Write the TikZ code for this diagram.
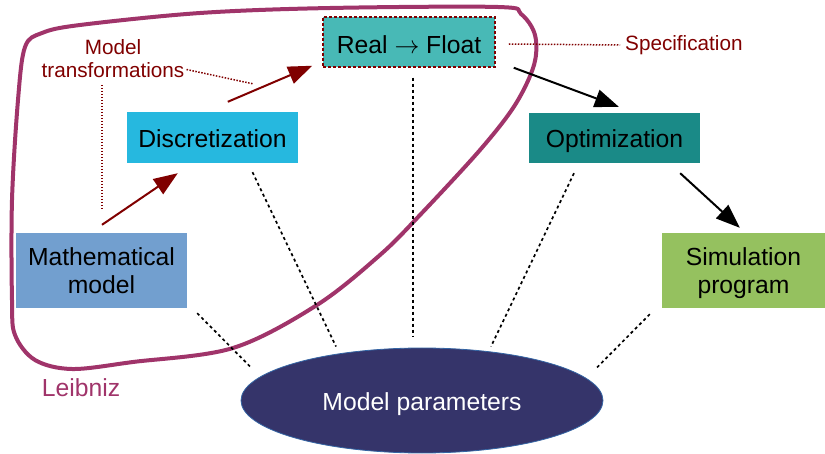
\documentclass[tikz,border=0pt]{standalone}
\usepackage{fontspec}
\setmainfont{Liberation Sans}
\usetikzlibrary{arrows.meta,calc,shapes.geometric}
\definecolor{dred}{HTML}{800000}
\definecolor{leib}{HTML}{A0346A}
\definecolor{cReal}{HTML}{48B9B6}
\definecolor{cOpt}{HTML}{1A8A87}
\definecolor{cDisc}{HTML}{26B8DF}
\definecolor{cMath}{HTML}{729FCF}
\definecolor{cSim}{HTML}{95C15F}
\definecolor{cEll}{HTML}{35346A}
\definecolor{cEllB}{HTML}{3465A4}
\newcommand{\nodesc}[1]{\raisebox{0pt}[\height][0pt]{#1}}
\begin{document}
\begin{tikzpicture}[x=1pt,y=-1pt,
  box/.style={rectangle, inner sep=0pt, font=\fontsize{24.7}{27.5}\selectfont, align=center},
  onebox/.style={rectangle, inner sep=0pt, font=\fontsize{24.7}{27.5}\selectfont, text height=22pt, text depth=2pt},
  tarrow/.style={-{Triangle[length=24pt,width=18pt]}, line width=2pt},
  dots/.style={dash pattern=on 3pt off 3pt, line width=1.7pt},
  rdots/.style={dred, dash pattern=on 1.5pt off 1.5pt, line width=1.5pt},
  anno/.style={dred, font=\fontsize{20.7}{23}\selectfont, align=center, inner sep=0pt}]
\useasboundingbox (0,0) rectangle (825,454);

% Leibniz loop
\draw[leib, line width=4pt, line join=round] plot[smooth cycle, tension=0.55] coordinates {
  (12,300) (12,200) (18,100) (25,47) (42,33) (80,25) (200,13) (330,8) (498,7)
  (521,14) (535,35) (534,65) (515,105) (480,150) (420,215) (380,255) (317,305)
  (233,348) (133,362) (72,369) (35,360) (15,335)};
\node[leib, font=\fontsize{24.7}{28}\selectfont, inner sep=0pt] (leibniz) at (81,388) {Leibniz};

% nodes
\node[onebox, text height=26pt, fill=cReal, draw=dred, dash pattern=on 3pt off 2pt, line width=1.5pt,
      minimum width=172pt, minimum height=50pt] (real) at (409,42) {Real $\rightarrow$ Float};
\node[onebox, fill=cOpt, minimum width=171pt, minimum height=50pt] (opt) at (614.5,138) {Optimization};
\node[onebox, fill=cDisc, minimum width=171pt, minimum height=51pt] (disc) at (212.5,137.5) {Discretization};
\node[box, fill=cMath, minimum width=171pt, minimum height=75pt] (math) at (101.5,270.5) {Mathematical\\model};
\node[box, fill=cSim, minimum width=163pt, minimum height=75pt] (sim) at (743.5,270.5) {Simulation\\\nodesc{program}};
\node[ellipse, fill=cEll, draw=cEllB, line width=0.8pt, minimum width=362pt, minimum height=105pt,
      inner sep=0pt, text=white, text height=22pt, text depth=2pt,
      font=\fontsize{24.7}{28}\selectfont] (ell) at (422,400.5) {Model parameters};

% annotations
\node[anno] (trans) at (113,58.5) {Model\\transformations};
\node[anno, anchor=west] (spec) at (625,45) {Specification};

% arrows
\draw[tarrow, dred] ($(math.north)+(0.5,-8)$) -- ($(disc.south west)+(51,10)$);
\draw[tarrow, dred] ($(disc.north west)+(101,-10)$) -- ($(real.south west)+(-10,-2)$);
\draw[tarrow, black] ($(real.south east)+(18,0)$) -- ($(opt.north west)+(90,-6)$);
\draw[tarrow, black] ($(opt.south east)+(-20,10)$) -- ($(sim.north west)+(78,-5)$);

% dotted links to parameters
\draw[dots] ($(math.south east)+(10,5)$) -- ($(ell.center)+(-171,-33)$);
\draw[dots] ($(disc.south)+(40,9)$) -- ($(ell.center)+(-86,-54)$);
\draw[dots] ($(real.south)+(4,10)$) -- ($(ell.center)+(-9,-64)$);
\draw[dots] ($(opt.south)+(-40.5,10)$) -- ($(ell.center)+(69,-54)$);
\draw[dots] ($(sim.south west)+(-12,6)$) -- ($(ell.center)+(175,-33)$);

% annotation leaders
\draw[rdots] ($(real.east)+(13,2)$) -- ($(spec.west)+(-5,0)$);
\draw[rdots] ($(trans.east)+(2,11)$) -- ($(disc.north west)+(126,-28)$);
\draw[rdots] ($(math.north)+(0.5,-148)$) -- ($(math.north)+(0.5,-23)$);
\end{tikzpicture}
\end{document}
